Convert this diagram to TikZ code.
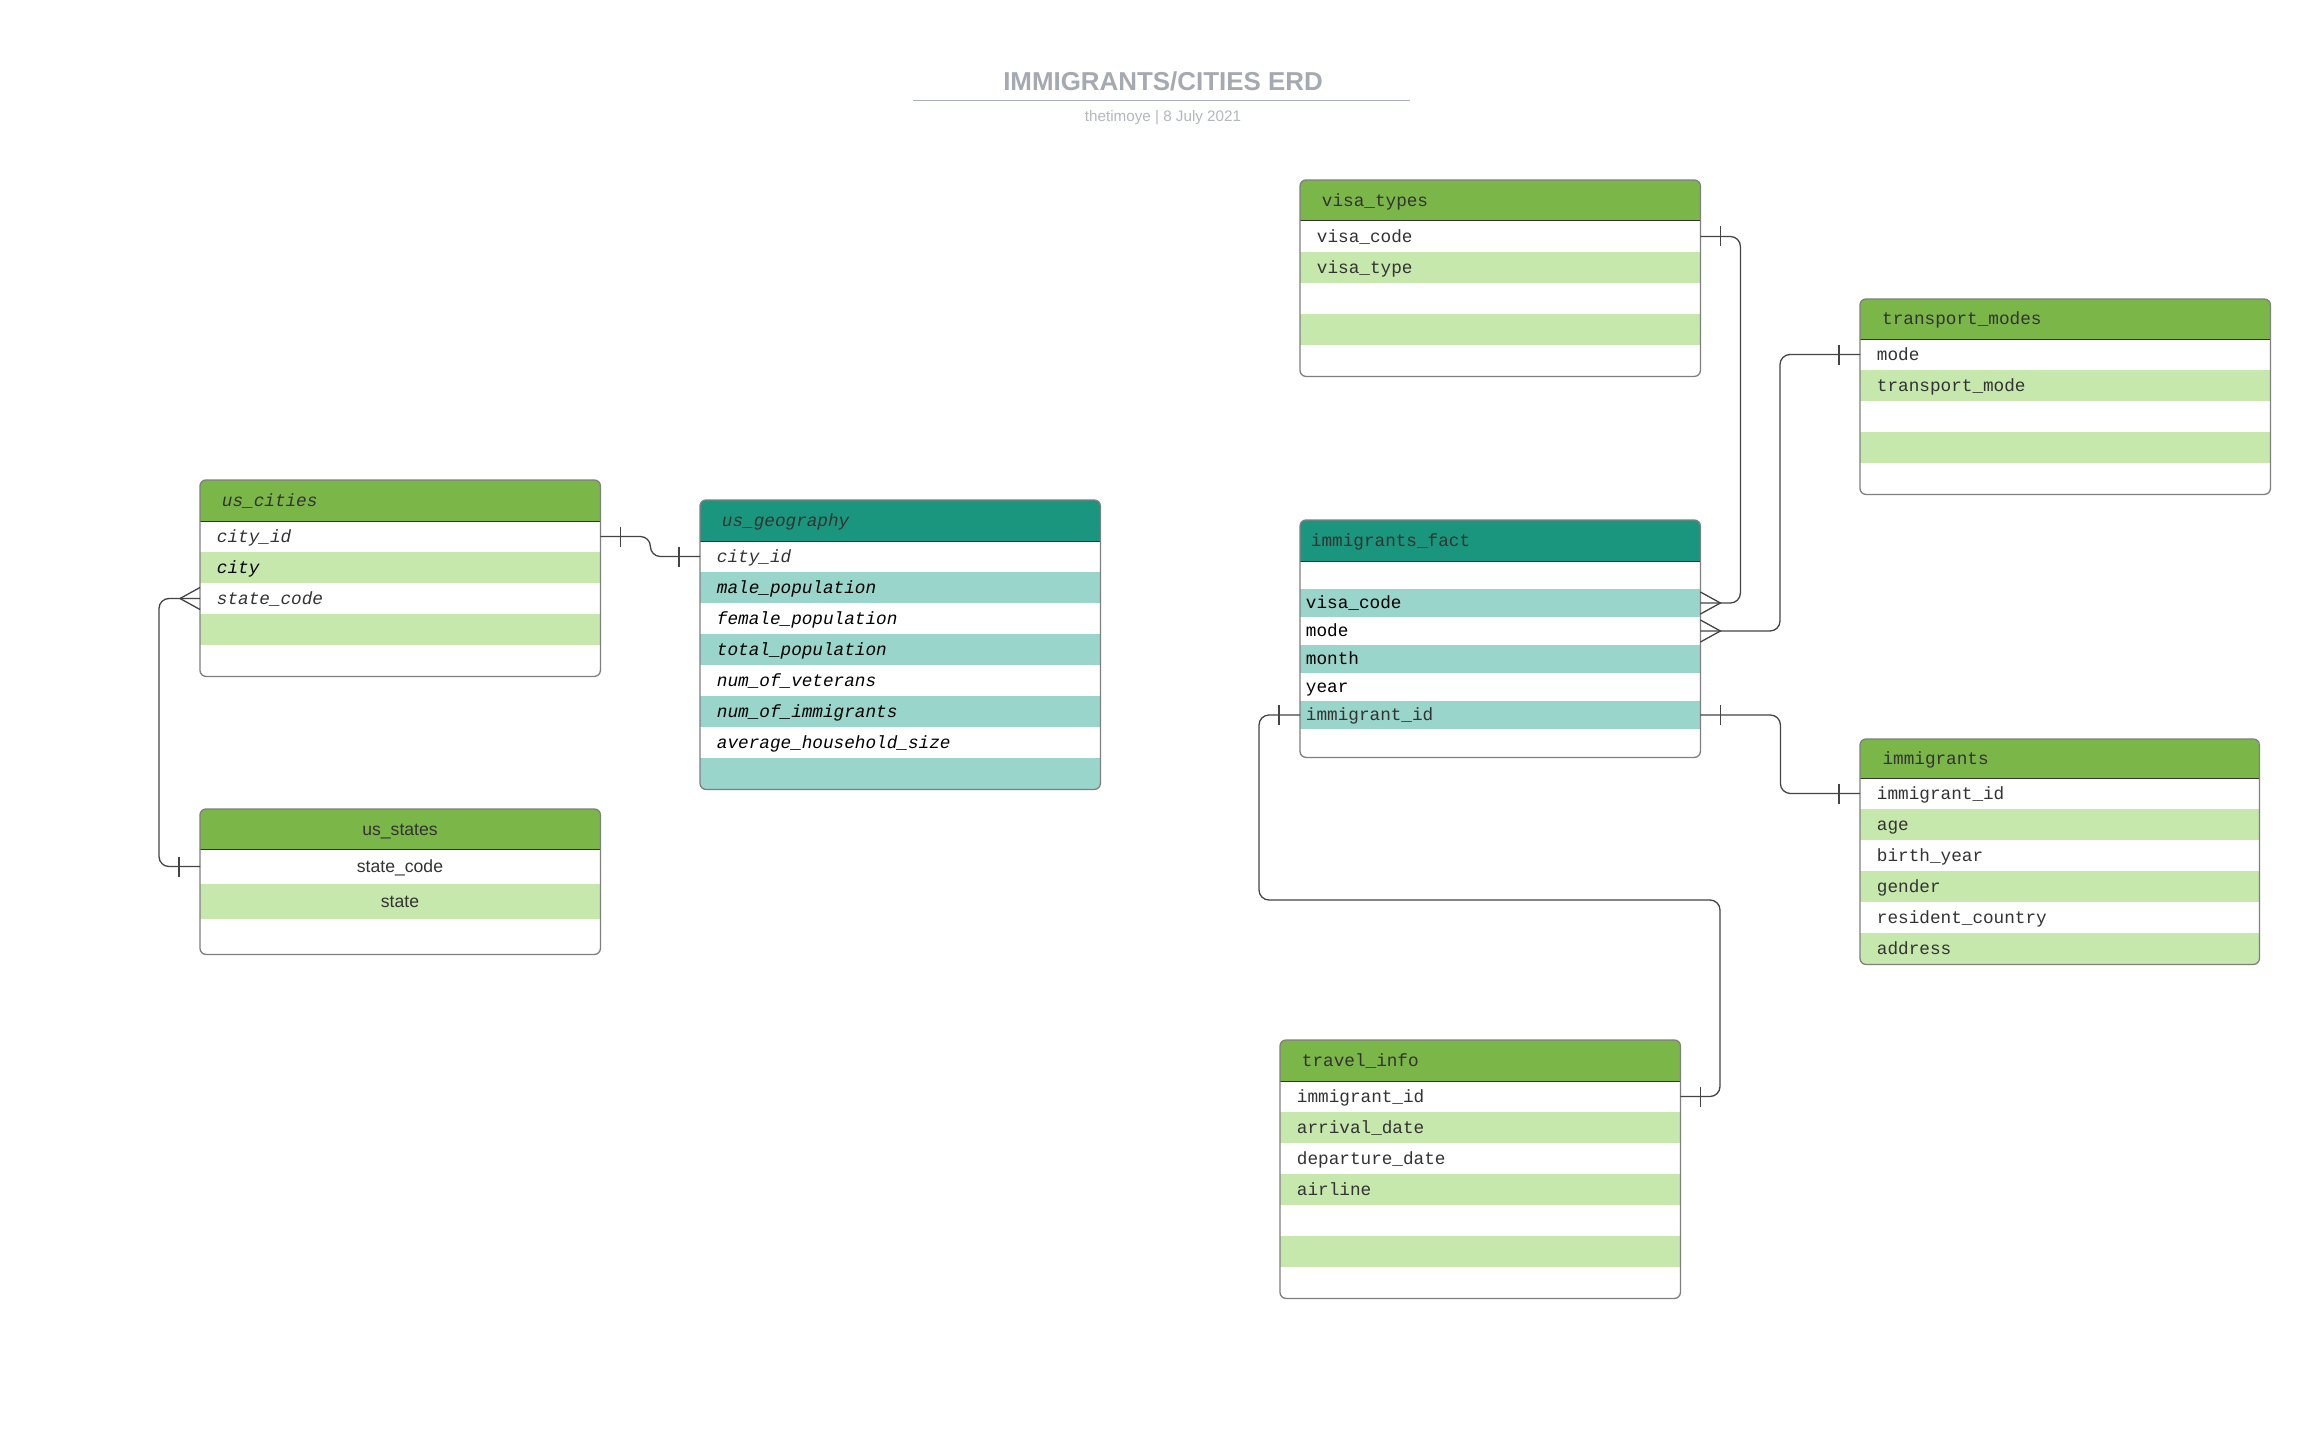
\documentclass[tikz,border=0pt]{standalone}
\usepackage{fontspec}
\setmainfont{Liberation Sans}
\setmonofont{Liberation Mono}
\setsansfont{Liberation Sans}
\usetikzlibrary{calc}
\definecolor{hdrg}{HTML}{7AB648}
\definecolor{rowg}{HTML}{C7E8AC}
\definecolor{hdrt}{HTML}{19967D}
\definecolor{rowt}{HTML}{99D5CA}
\definecolor{txtdark}{HTML}{333333}
\definecolor{framecol}{HTML}{7F7F7F}
\definecolor{conncol}{HTML}{444444}
\definecolor{titlecol}{HTML}{A5A9B2}
\definecolor{rulecol}{HTML}{ABAFB7}
\definecolor{subcol}{HTML}{B3B7BE}
\newcommand\monoup{\ttfamily\fontsize{17.7}{20}\selectfont}
\newcommand\monoit{\ttfamily\itshape\fontsize{17.7}{20}\selectfont}
\newcommand\sansf{\sffamily\fontsize{17.6}{20}\selectfont}
\tikzset{
  frame/.style={draw=framecol, line width=1.3pt, rounded corners=6pt},
  hdrsep/.style={draw=txtdark, line width=1pt},
  conn/.style={draw=conncol, line width=1.3pt, rounded corners=10pt},
  barln/.style={draw=conncol, line width=1.3pt},
  rowtxt/.style={anchor=west, inner sep=0pt, text height=11.6pt, text depth=0pt, font=\monoup, text=txtdark},
  rowit/.style={rowtxt, font=\monoit},
  hdrtxt/.style={rowtxt},
  hdrit/.style={rowit},
  sanstxt/.style={anchor=center, inner sep=0pt, text height=12.6pt, text depth=0pt, font=\sansf, text=txtdark},
}
% table frame: name, x, y, width, header height, row height, rows, scheme
\newcommand\tbl[8]{%
  \pgfmathsetmacro\tblH{#5+#7*#6}%
  \node[inner sep=0pt, minimum width=#4pt, minimum height=\tblH pt, anchor=north west] (#1) at (#2,#3) {};
  \begin{scope}
    \clip[rounded corners=6pt] (#2,#3) rectangle ++(#4,\tblH);
    \fill[white] (#2,#3) rectangle ++(#4,\tblH);
    \fill[hdr#8] (#2,#3) rectangle ++(#4,#5);
    \foreach \k in {1,...,#7}{\ifodd\k\else\fill[row#8] (#2,{#3+#5+(\k-1)*#6}) rectangle ++(#4,#6);\fi}
  \end{scope}
  \draw[hdrsep] (#2,{#3+#5}) -- ++(#4,0);
  \draw[frame] (#1.north west) rectangle (#1.south east);
}
% row texts: name prefix, x, y start, row height, style, list
\newcommand\tblrows[6]{\foreach \rowlabel [count=\k] in {#6}{\node[#5] (#1-\k) at (#2,{#3+(\k-0.5)*#4}) {\rowlabel};}}
\newcommand\onebar[2]{\draw[barln] ([shift={(#2,-10)}]#1) -- ([shift={(#2,10)}]#1);}
\newcommand\crowft[2]{\draw[barln] ([shift={(0,-11)}]#1) -- ([shift={(#2,0)}]#1) -- ([shift={(0,11)}]#1);}
\begin{document}
\begin{tikzpicture}[x=1pt,y=-1pt]
\fill[white] (0,0) rectangle (2320,1439);
\useasboundingbox (0,0) rectangle (2320,1439);

% title
\node[anchor=base, inner sep=0pt, font=\bfseries\fontsize{25.9}{30}\selectfont, text=titlecol] (title) at (1163,90.5) {IMMIGRANTS/CITIES ERD};
\coordinate (ruleL) at (913,100.5);
\coordinate (ruleR) at (1410,100.5);
\draw[rulecol, line width=1.6pt] (ruleL) -- (ruleR);
\node[anchor=base, inner sep=0pt, font=\fontsize{15.2}{18}\selectfont, text=subcol] (subtitle) at (1163,121.5) {thetimoye | 8 July 2021};

% us_cities
\tbl{uc}{200}{480}{400}{41}{31}{5}{g}
\node[hdrit] (uc-h) at (221.7,500.5) {us\_cities};
\tblrows{uc}{216.7}{521}{31}{rowit}{city\_id,\color{black}city,state\_code}

% us_geography
\tbl{ug}{700}{500}{400}{41}{31}{8}{t}
\node[hdrit] (ug-h) at (721.7,520.5) {us\_geography};
\tblrows{ug}{716.7}{541}{31}{rowit}{city\_id,\color{black}male\_population,\color{black}female\_population,\color{black}total\_population,\color{black}num\_of\_veterans,\color{black}num\_of\_immigrants,\color{black}average\_household\_size}

% us_states
\tbl{us}{200}{809}{400}{40}{35}{3}{g}
\node[sanstxt] (us-h) at (400,829) {us\_states};
\tblrows{us}{400}{849}{35}{sanstxt}{state\_code,state}

% visa_types
\tbl{vt}{1300}{180}{400}{41}{31}{5}{g}
\node[hdrtxt] (vt-h) at (1321.7,200.5) {visa\_types};
\tblrows{vt}{1316.7}{221}{31}{rowtxt}{visa\_code,visa\_type}

% transport_modes
\tbl{tm}{1860}{299}{410}{40}{31}{5}{g}
\node[hdrtxt] (tm-h) at (1882,319) {transport\_modes};
\tblrows{tm}{1876.7}{339}{31}{rowtxt}{mode,transport\_mode}

% immigrants_fact
\tbl{fact}{1300}{520}{400}{41}{28}{7}{t}
\node[hdrtxt] (fact-h) at (1310.7,540.5) {immigrants\_fact};
\tblrows{fr}{1305.7}{589}{28}{rowtxt}{\color{black}visa\_code,\color{black}mode,\color{black}month,\color{black}year,immigrant\_id}

% immigrants
\tbl{im}{1860}{739}{399}{39}{31}{6}{g}
\node[hdrtxt] (im-h) at (1882.3,758.5) {immigrants};
\tblrows{im}{1876.7}{778}{31}{rowtxt}{immigrant\_id,age,birth\_year,gender,resident\_country,address}

% travel_info
\tbl{ti}{1280}{1040}{400}{41}{31}{7}{g}
\node[hdrtxt] (ti-h) at (1301.7,1060.5) {travel\_info};
\tblrows{ti}{1296.7}{1081}{31}{rowtxt}{immigrant\_id,arrival\_date,departure\_date,airline}

% connector end points
\coordinate (ucE) at (uc-1 -| uc.east);
\coordinate (ugW) at (ug-1 -| ug.west);
\coordinate (ucW) at (uc-3 -| uc.west);
\coordinate (usW) at (us-1 -| us.west);
\coordinate (vtE) at (vt-1 -| vt.east);
\coordinate (fvE) at (fr-1 -| fact.east);
\coordinate (tmW) at (tm-1 -| tm.west);
\coordinate (fmE) at (fr-2 -| fact.east);
\coordinate (fiE) at (fr-5 -| fact.east);
\coordinate (imW) at (im-1 -| im.west);
\coordinate (fiW) at (fr-5 -| fact.west);
\coordinate (tiE) at (ti-1 -| ti.east);
\coordinate (loop) at (1720,900);

% us_cities -- us_geography
\draw[conn] (ucE) -- ++(50,0) |- (ugW);
\onebar{ucE}{20}
\onebar{ugW}{-21}
% us_cities >-- us_states
\draw[conn] (ucW) -- ++(-41,0) |- (usW);
\crowft{ucW}{-20}
\onebar{usW}{-21}
% visa_types -- fact
\draw[conn] (vtE) -- ++(40,0) |- (fvE);
\onebar{vtE}{20}
\crowft{fvE}{20}
% transport_modes -- fact
\draw[conn] (tmW) -- ++(-80,0) |- (fmE);
\onebar{tmW}{-21}
\crowft{fmE}{20}
% fact -- immigrants
\draw[conn] (fiE) -- ++(80,0) |- (imW);
\onebar{fiE}{20}
\onebar{imW}{-21}
% fact -- travel_info
\draw[conn] (fiW) -- ++(-41,0) |- (loop) |- (tiE);
\onebar{fiW}{-21}
\onebar{tiE}{20}
\end{tikzpicture}
\end{document}
